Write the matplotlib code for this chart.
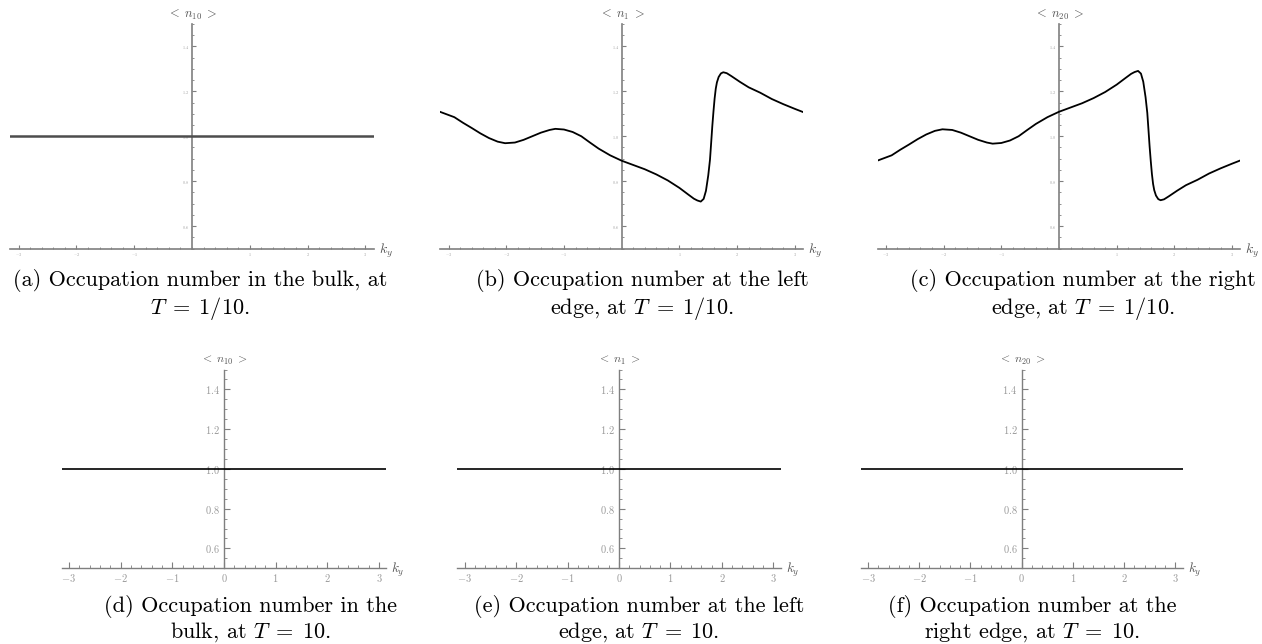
"""
Occupation numbers <n_j> versus k_y, at the bulk and the two edges,
for a low (T = 1/10) and a high (T = 10) temperature.
Six panels laid out like a LaTeX subfigure grid.
"""

import matplotlib
matplotlib.use("Agg")
import matplotlib.pyplot as plt
from matplotlib.ticker import FixedLocator, MultipleLocator

plt.rcParams["font.family"] = "cmr10"
plt.rcParams["mathtext.fontset"] = "cm"
plt.rcParams["axes.formatter.use_mathtext"] = True

W, H = 1262, 644

# ------------------------------------------------------------------
# data
# ------------------------------------------------------------------
K_FLAT = [-3.1416, 3.1416]
N10_LOW_T = [1.0, 1.0]
N10_HIGH_T = [1.0, 1.0]
N1_HIGH_T = [1.0, 1.0]
N20_HIGH_T = [1.0, 1.0]

K_EDGE = [-3.14, -2.9, -2.75, -2.6, -2.45, -2.3, -2.15, -2.02, -1.85, -1.7,
          -1.55, -1.4, -1.25, -1.15, -1.0, -0.85, -0.7, -0.55, -0.4, -0.2,
          0.0, 0.2, 0.4, 0.6, 0.8, 1.0, 1.15, 1.25, 1.31, 1.37,
          1.42, 1.46, 1.50, 1.53, 1.55, 1.57, 1.59, 1.61, 1.63, 1.65,
          1.68, 1.72, 1.76, 1.82, 1.9, 2.05, 2.2, 2.4, 2.6, 2.8,
          3.0, 3.14]
N1_LOW_T = [1.108, 1.085, 1.060, 1.037, 1.013, 0.992, 0.976, 0.969, 0.972, 0.984,
            1.000, 1.016, 1.028, 1.033, 1.030, 1.019, 1.000, 0.972, 0.945, 0.915,
            0.891, 0.872, 0.853, 0.830, 0.803, 0.770, 0.741, 0.722, 0.714, 0.709,
            0.721, 0.757, 0.826, 0.896, 0.970, 1.045, 1.110, 1.168, 1.212, 1.240,
            1.264, 1.280, 1.285, 1.281, 1.268, 1.242, 1.218, 1.194, 1.166, 1.143,
            1.122, 1.108]
N20_LOW_T = [0.892, 0.915, 0.940, 0.963, 0.987, 1.008, 1.024, 1.031, 1.028, 1.016,
             1.000, 0.984, 0.972, 0.967, 0.970, 0.981, 1.000, 1.028, 1.055, 1.085,
             1.109, 1.128, 1.147, 1.170, 1.197, 1.230, 1.259, 1.278, 1.286, 1.291,
             1.279, 1.243, 1.174, 1.104, 1.030, 0.955, 0.890, 0.832, 0.788, 0.760,
             0.736, 0.720, 0.715, 0.719, 0.732, 0.758, 0.782, 0.806, 0.834, 0.857,
             0.878, 0.892]

X_TICKS_LOW = [-3, -2, -1, 1, 2, 3]
X_TICKS_HIGH = [-3, -2, -1, 0, 1, 2, 3]
Y_TICKS = [0.6, 0.8, 1.0, 1.2, 1.4]

Y_LABELS = [r"$<\;n_{10}\;>$", r"$<\;n_1\;>$", r"$<\;n_{20}\;>$"]
CAPTIONS_LOW = [
    ("(a) Occupation number in the bulk, at", r"$T\;=\;1/10$."),
    ("(b) Occupation number at the left", r"edge, at $T\;=\;1/10$."),
    ("(c) Occupation number at the right", r"edge, at $T\;=\;1/10$."),
]
CAPTIONS_HIGH = [
    ("(d) Occupation number in the", r"bulk, at $T\;=\;10$."),
    ("(e) Occupation number at the left", r"edge, at $T\;=\;10$."),
    ("(f) Occupation number at the", r"right edge, at $T\;=\;10$."),
]

# panel boxes in pixels: left, top, right, bottom (top = y 1.5, bottom = y 0.5)
BOX_LOW = [(10.4, 24, 373.6, 248.5), (440.4, 24, 803.0, 248.5),
           (877.7, 24, 1240.3, 248.5)]
BOX_HIGH = [(61.6, 369.5, 386.4, 568.3), (457.4, 369.5, 780.6, 568.3),
            (860.8, 369.5, 1182.5, 568.3)]
CAP_X_LOW = [200, 642, 1083]
CAP_X_HIGH = [250, 639, 1032]
CAP_Y_LOW = (286, 314)
CAP_Y_HIGH = (612, 638)

AXIS_GRAY = "#7f7f7f"


def make_axes(fig, box):
    l, t, r, b = box
    return fig.add_axes([l / W, 1 - b / H, (r - l) / W, (b - t) / H])


def style_axes(ax, xticks, small):
    ax.set_xlim(-3.1416, 3.1416)
    ax.set_ylim(0.5, 1.5)
    for s in ("top", "right"):
        ax.spines[s].set_visible(False)
    ax.spines["left"].set_position(("data", 0))
    for s in ("left", "bottom"):
        ax.spines[s].set_color(AXIS_GRAY)
        ax.spines[s].set_linewidth(1.2 if small else 1.0)
    ax.xaxis.set_major_locator(FixedLocator(xticks))
    ax.xaxis.set_minor_locator(MultipleLocator(0.2))
    ax.yaxis.set_major_locator(FixedLocator(Y_TICKS))
    ax.yaxis.set_minor_locator(MultipleLocator(0.05))
    if small:
        ax.tick_params(which="major", direction="in", length=3, width=0.8,
                       color=AXIS_GRAY, labelsize=3, labelcolor="#a0a0a0", pad=2)
        ax.tick_params(which="minor", direction="in", length=1.6, width=0.6,
                       color=AXIS_GRAY)
    else:
        ax.tick_params(which="major", direction="in", length=4, width=0.8,
                       color=AXIS_GRAY, labelsize=7.5, labelcolor="#9a9a9a", pad=3)
        ax.tick_params(which="minor", direction="in", length=2, width=0.6,
                       color=AXIS_GRAY)
    ax.patch.set_alpha(0)


def axis_labels(ax, ylabel, fs):
    ax.annotate(ylabel, xy=(0, 1.5), xytext=(0, 9), textcoords="offset pixels",
                ha="center", va="center", fontsize=fs, color="#555555")
    ax.annotate(r"$k_y$", xy=(3.1416, 0.5), xytext=(5, -2),
                textcoords="offset pixels", ha="left", va="center",
                fontsize=fs + 1, color="#555555")


fig = plt.figure(figsize=(W / 100, H / 100), dpi=100)

low_series = [(K_FLAT, N10_LOW_T), (K_EDGE, N1_LOW_T), (K_EDGE, N20_LOW_T)]
for i, (kx, ny) in enumerate(low_series):
    ax = make_axes(fig, BOX_LOW[i])
    style_axes(ax, X_TICKS_LOW, small=True)
    if i == 0:
        ax.plot(kx, ny, color="#4d4d4d", lw=1.8, zorder=3)
    else:
        ax.plot(kx, ny, color="black", lw=1.3, zorder=3,
                solid_joinstyle="round")
    axis_labels(ax, Y_LABELS[i], 9)

high_series = [(K_FLAT, N10_HIGH_T), (K_FLAT, N1_HIGH_T), (K_FLAT, N20_HIGH_T)]
for i, (kx, ny) in enumerate(high_series):
    ax = make_axes(fig, BOX_HIGH[i])
    style_axes(ax, X_TICKS_HIGH, small=False)
    ax.plot(kx, ny, color="black", lw=1.2, zorder=3)
    axis_labels(ax, Y_LABELS[i], 8.5)

for caps, xs, ys in [(CAPTIONS_LOW, CAP_X_LOW, CAP_Y_LOW),
                     (CAPTIONS_HIGH, CAP_X_HIGH, CAP_Y_HIGH)]:
    for (line1, line2), cx in zip(caps, xs):
        fig.text(cx / W, 1 - ys[0] / H, line1, ha="center", va="baseline",
                 fontsize=16)
        fig.text(cx / W, 1 - ys[1] / H, line2, ha="center", va="baseline",
                 fontsize=16)

fig.savefig("out.png", dpi=100)
